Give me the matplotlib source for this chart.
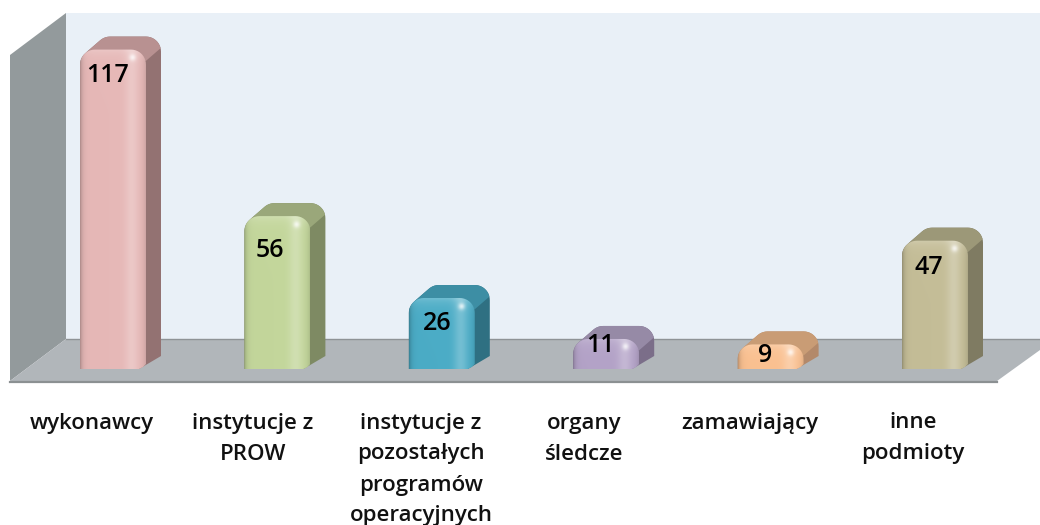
import numpy as np
import matplotlib
matplotlib.use("Agg")
import matplotlib.pyplot as plt
from matplotlib.colors import to_rgb
from matplotlib.patches import Polygon, PathPatch
from matplotlib.path import Path

# chart data
categories = ["wykonawcy", "instytucje z\nPROW", "instytucje z\npozostałych\nprogramów\noperacyjnych",
              "organy\nśledcze", "zamawiający", "inne\npodmioty"]
values = [117, 56, 26, 11, 9, 47]

# bar colours: front, side, top
front_colors = ["#e6b8b7", "#c3d69b", "#4bacc6", "#b3a2c7", "#fac090", "#c4bd97"]
side_colors = ["#937272", "#7e8a63", "#2f7082", "#7b6e89", "#b3896a", "#7f7b62"]
top_colors = ["#b89191", "#9aa77a", "#3d8ea4", "#968aa6", "#c99c75", "#9c9878"]

# label placement, in pixels
label_x = [92, 253, 421, 584, 750, 913]
value_x = [108, 270, 437, 600, 765, 929]
value_y = [76, 251, 323, 346, 356, 268]

# layout in pixels
W, H = 1040, 525
X0, Y0 = 113.0, 369.0   # category 0, value 0
STEP = 164.4            # pixels per category
PXU = 2.73              # pixels per value unit
BAR_W = 66
DX, DY = 15, 13         # depth of a bar
R = 15                  # corner radius


def xd(px):
    return (np.asarray(px, dtype=float) - X0) / STEP


def yd(py):
    return (Y0 - np.asarray(py, dtype=float)) / PXU


def pts(coords):
    return [(xd(x), yd(y)) for x, y in coords]


def front_outline(i, v, ox=0.0, oy=0.0):
    # rounded top corners, in data units
    bw = BAR_W / STEP / 2
    rx, ry = R / STEP, min(R / PXU, v * 0.6)
    x0, x1 = i - bw + ox, i + bw + ox
    top, base = v + oy, oy
    a = np.linspace(np.pi, np.pi / 2, 12)
    left = np.c_[x0 + rx + rx * np.cos(a), top - ry + ry * np.sin(a)]
    a = np.linspace(np.pi / 2, 0, 12)
    right = np.c_[x1 - rx + rx * np.cos(a), top - ry + ry * np.sin(a)]
    return np.vstack([[[x0, base]], left, right, [[x1, base]]])


def draw_bar(ax, i, v, fc, sc, tc):
    ox, oy = DX / STEP, DY / PXU
    bw = BAR_W / STEP / 2
    x0, x1 = i - bw, i + bw

    front = front_outline(i, v)
    back = front_outline(i, v, ox, oy)
    # silhouette of the extruded shape, the left arc hands over to the back outline
    # where the corner tangent runs along the depth direction
    sil = np.vstack([front[:8], back[7:], [[x1 - 7 / STEP, 0]]])
    sil_patch = Polygon(sil, closed=True, facecolor=sc, edgecolor="none", zorder=3)
    ax.add_patch(sil_patch)

    # top face
    ry = min(R / PXU, v * 0.6)
    top_poly = Polygon([(x0, v - ry), (x0 + ox, v + oy + 1), (x1 + ox + 1, v + oy + 1),
                        (x1 + ox, v + oy - ry * 0.75), (x1, v - ry * 0.75)],
                       closed=True, facecolor=tc, edgecolor="none", zorder=4)
    ax.add_patch(top_poly)
    top_poly.set_clip_path(sil_patch)

    # front face: shaded image clipped to the rounded outline
    nx, ny = 66, max(int(v * PXU), 4)
    u = np.linspace(0, 1, nx) * BAR_W
    d = np.linspace(0, 1, ny) * v * PXU   # distance from the base, pixels
    uu, dd = np.meshgrid(u, d)
    from_top = v * PXU - dd
    base = np.array(to_rgb(fc))
    img = np.ones((ny, nx, 3)) * base
    # dark left and right edges
    dark = 0.22 * np.exp(-uu / 2.5) + 0.10 * np.exp(-(BAR_W - uu) / 3.0)
    # vertical highlight strip, then lighter rim along the top
    light = 0.22 * np.exp(-((uu - 52) / 7.0) ** 2) + 0.20 * np.exp(-from_top / 6.0)
    # small hot spot near the top right corner
    light += 0.55 * np.exp(-(((uu - 53) / 3.5) ** 2 + ((from_top - 8) / 3.5) ** 2))
    img = img * (1 - dark)[..., None]
    img = img + (1 - img) * np.clip(light, 0, 1)[..., None]
    im = ax.imshow(img, extent=(x0, x1, 0, v), origin="lower", aspect="auto",
                   interpolation="bilinear", zorder=5)
    # soft corner at the bottom right of the front
    verts = np.vstack([front[:-1], [[x1, 5 / PXU], [x1 - 3 / STEP, 2 / PXU], [x1 - 7 / STEP, 0]], front[:1]])
    clip = PathPatch(Path(verts), transform=ax.transData, facecolor="none", edgecolor="none")
    ax.add_patch(clip)
    im.set_clip_path(clip)


fig = plt.figure(figsize=(W / 100, H / 100), dpi=100, facecolor="white")
ax = fig.add_axes([0, 0, 1, 1])
ax.axis("off")

# walls and floor
ax.add_patch(Polygon(pts([(66, 13), (1040, 13), (1040, 339), (66, 339)]),
                     facecolor="#e9f0f7", edgecolor="none", zorder=1))
ax.add_patch(Polygon(pts([(10, 55), (66, 13), (66, 339), (10, 381)]),
                     facecolor="#939a9c", edgecolor="none", zorder=1))
ax.add_patch(Polygon(pts([(10, 381), (66, 339), (1040, 339), (1040, 350), (997, 381)]),
                     facecolor="#b1b6ba", edgecolor="none", zorder=2))
ax.plot(*zip(*pts([(66, 339), (1040, 339)])), color="#8e9396", lw=1.0, zorder=2)
ax.plot(*zip(*pts([(10, 381.5), (997, 381.5)])), color="#8b9092", lw=1.6, zorder=2)

for i, v in enumerate(values):
    draw_bar(ax, i, v, front_colors[i], side_colors[i], top_colors[i])

plt.rcParams["font.family"] = ["Open Sans", "DejaVu Sans"]

for i, v in enumerate(values):
    ax.text(xd(value_x[i]), yd(value_y[i]), str(v), ha="center", va="center",
            fontsize=18, fontweight="semibold", color="black", zorder=6)

# category labels, line by line to hold the wide spacing of the original
for i, cat in enumerate(categories):
    for n, line in enumerate(cat.split("\n")):
        ax.text(xd(label_x[i]), yd(423 + 31 * n), line, ha="center", va="center",
                fontsize=16, fontweight="semibold", color="#111111", zorder=6)

ax.set_xlim(xd(0), xd(W))
ax.set_ylim(yd(H), yd(0))

fig.savefig("out.png", dpi=100, facecolor="white")
